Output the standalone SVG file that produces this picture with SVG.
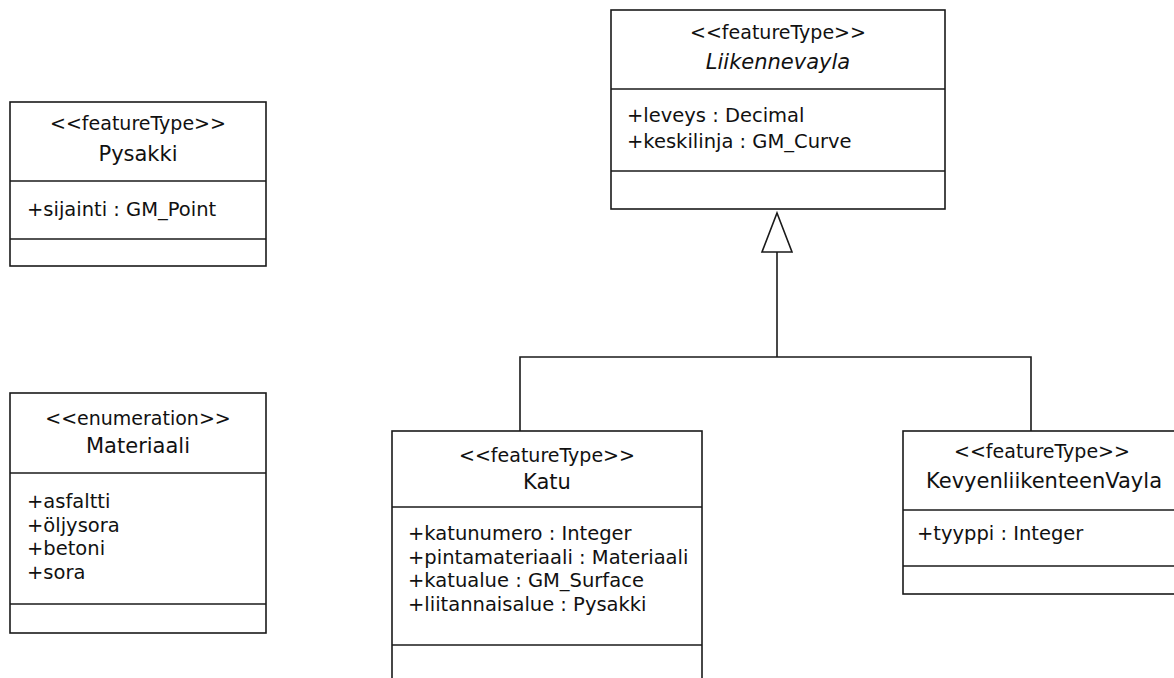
<svg xmlns="http://www.w3.org/2000/svg" width="1174" height="678" viewBox="0 0 1174 678">
<style>
.box{fill:#fff;stroke:#1a1a1a;stroke-width:1.6}
.ln{stroke:#1a1a1a;stroke-width:1.6;fill:none}
text{font-family:"DejaVu Sans","Verdana",sans-serif;fill:#111}
.st{font-size:19px;text-anchor:middle}
.nm{font-size:21px;text-anchor:middle}
.it{font-style:italic}
.at{font-size:19.5px}
</style>
<rect width="1174" height="678" fill="#fff"/>
<g id="connectors">
<polyline class="ln" points="520,431 520,357 1031,357 1031,431"/>
<line class="ln" x1="777" y1="357" x2="777" y2="252"/>
<polygon class="box" points="777,213 792,252 762,252"/>
</g>
<g id="Liikennevayla">
<rect class="box" x="611" y="10" width="334" height="199"/>
<line class="ln" x1="611" y1="89" x2="945" y2="89"/>
<line class="ln" x1="611" y1="171" x2="945" y2="171"/>
<text class="st" x="778" y="39">&lt;&lt;featureType&gt;&gt;</text>
<text class="nm it" x="778" y="69">Liikennevayla</text>
<text class="at" x="627" y="122">+leveys : Decimal</text>
<text class="at" x="627" y="148">+keskilinja : GM_Curve</text>
</g>
<g id="Pysakki">
<rect class="box" x="10" y="102" width="256" height="164"/>
<line class="ln" x1="10" y1="181" x2="266" y2="181"/>
<line class="ln" x1="10" y1="239" x2="266" y2="239"/>
<text class="st" x="138" y="130">&lt;&lt;featureType&gt;&gt;</text>
<text class="nm" x="138" y="161">Pysakki</text>
<text class="at" x="27" y="216">+sijainti : GM_Point</text>
</g>
<g id="Materiaali">
<rect class="box" x="10" y="393" width="256" height="240"/>
<line class="ln" x1="10" y1="473" x2="266" y2="473"/>
<line class="ln" x1="10" y1="604" x2="266" y2="604"/>
<text class="st" x="138" y="425">&lt;&lt;enumeration&gt;&gt;</text>
<text class="nm" x="138" y="453">Materiaali</text>
<text class="at" x="27" y="508">+asfaltti</text>
<text class="at" x="27" y="531.5">+öljysora</text>
<text class="at" x="27" y="555">+betoni</text>
<text class="at" x="27" y="578.5">+sora</text>
</g>
<g id="Katu">
<rect class="box" x="392" y="431" width="310" height="260"/>
<line class="ln" x1="392" y1="507" x2="702" y2="507"/>
<line class="ln" x1="392" y1="645" x2="702" y2="645"/>
<text class="st" x="547" y="462">&lt;&lt;featureType&gt;&gt;</text>
<text class="nm" x="547" y="489">Katu</text>
<text class="at" x="408" y="540">+katunumero : Integer</text>
<text class="at" x="408" y="563.5">+pintamateriaali : Materiaali</text>
<text class="at" x="408" y="587">+katualue : GM_Surface</text>
<text class="at" x="408" y="610.5">+liitannaisalue : Pysakki</text>
</g>
<g id="KevyenliikenteenVayla">
<rect class="box" x="903" y="431" width="282" height="163"/>
<line class="ln" x1="903" y1="510" x2="1185" y2="510"/>
<line class="ln" x1="903" y1="566" x2="1185" y2="566"/>
<text class="st" x="1042" y="458">&lt;&lt;featureType&gt;&gt;</text>
<text class="nm" x="1044" y="488">KevyenliikenteenVayla</text>
<text class="at" x="917" y="540">+tyyppi : Integer</text>
</g>
</svg>
